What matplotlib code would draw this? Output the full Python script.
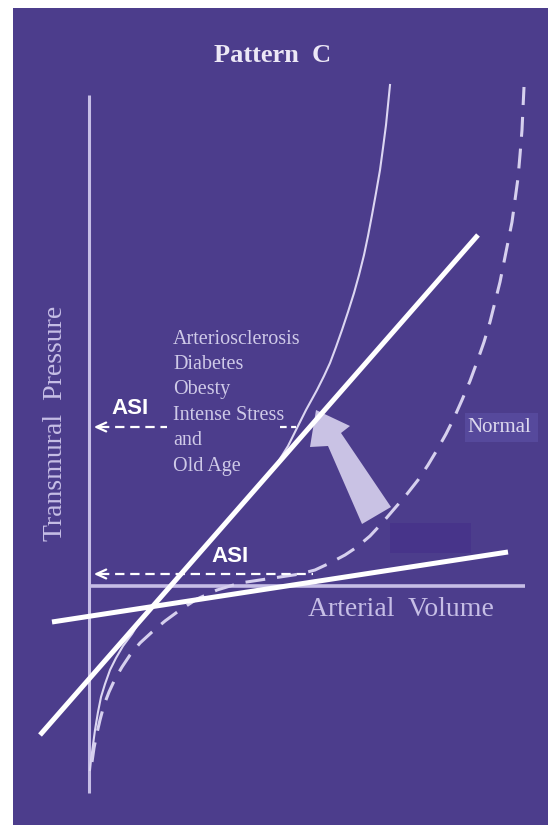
import matplotlib
matplotlib.use("Agg")
import matplotlib.pyplot as plt
from matplotlib.patches import Rectangle, Polygon

# --- data (diagram coordinates, y grows downward) ---
stiff_x = [90, 91, 93, 95, 98, 101, 105, 110, 116, 123, 132, 140, 175, 210, 245, 268,
           278, 288, 297, 306, 317, 324, 330, 336, 342, 348, 354, 359, 364, 368, 372,
           376, 380, 383, 386, 388, 390]
stiff_y = [770, 760, 745, 730, 712, 697, 684, 670, 658, 646, 634, 621, 581, 541, 501, 475,
           462, 446, 428, 410, 390, 376, 363, 347, 330, 312, 293, 275, 255, 236, 215,
           193, 170, 148, 125, 105, 85]

normal_x = [92, 94, 97, 100, 104, 109, 115, 122, 130, 140, 152, 165, 180, 197, 217, 240,
            260, 280, 300, 315, 330, 345, 357, 370, 383, 395, 407, 418, 428, 437, 446,
            454, 462, 470, 477, 484, 490, 495, 500, 504, 508, 512, 515, 518, 520, 522,
            523, 524]
normal_y = [762, 748, 733, 720, 705, 692, 679, 667, 655, 643, 632, 621, 610, 599, 590, 583,
            580, 577, 574, 570, 563, 555, 547, 536, 522, 508, 494, 480, 465, 450, 434,
            418, 400, 381, 362, 342, 322, 302, 282, 262, 242, 222, 200, 178, 155, 130,
            108, 87]

tangent_steep = ([40, 478], [735, 235])
tangent_flat = ([52, 508], [622, 552])

asi_upper = {"y": 427, "left": 100, "right": 167, "tail": (280, 296), "label": (130, 408)}
asi_lower = {"y": 574, "left": 100, "right": 313, "label": (230, 556)}

risk_labels = ["Arteriosclerosis", "Diabetes", "Obesty", "Intense Stress", "and", "Old Age"]

shift_arrow = [(316, 410), (350, 426), (341, 433), (391, 507), (362, 524), (328, 446), (310, 447)]

BG = "#4c3d8c"
LAV = "#c6bee6"

fig = plt.figure(figsize=(5.48, 8.25), dpi=100)
fig.patch.set_facecolor("white")
ax = fig.add_axes([0, 0, 1, 1])
ax.set_xlim(0, 548)
ax.set_ylim(825, 0)
ax.axis("off")

ax.add_patch(Rectangle((13, 8), 535, 817, facecolor=BG, edgecolor="none", zorder=0))

# patches left over in the original slide
ax.add_patch(Rectangle((390, 523), 81, 30, facecolor="#47348a", edgecolor="none", zorder=1))
ax.add_patch(Rectangle((465, 413), 73, 29, facecolor="#56499c", edgecolor="none", zorder=1))

# axes
ax.plot([89, 89], [95, 793], color=LAV, lw=2.2, solid_capstyle="butt", zorder=2)
ax.plot([89, 525], [586, 586], color=LAV, lw=2.6, solid_capstyle="butt", zorder=2)

# curves
ax.plot(stiff_x, stiff_y, color="#dcd6f2", lw=1.5, zorder=3)
ax.plot(normal_x, normal_y, color="#d6d0ee", lw=2.2, linestyle=(0, (6.5, 3.9)), zorder=3)

# shift arrow
ax.add_patch(Polygon(shift_arrow, closed=True, facecolor="#c9c2e4", edgecolor="none", zorder=3))

# ASI arrows
for a in (asi_upper, asi_lower):
    ax.plot([a["left"], a["right"]], [a["y"], a["y"]], color="white", lw=1.6,
            linestyle=(0, (4.2, 2.6)), zorder=4)
    ax.annotate("", xy=(91, a["y"]), xytext=(104, a["y"]),
                arrowprops=dict(arrowstyle="->,head_length=0.7,head_width=0.32",
                                color="white", lw=1.6), zorder=4)
    ax.text(a["label"][0], a["label"][1], "ASI", color="white", fontsize=16,
            fontweight="bold", family="Liberation Sans", ha="center", va="center", zorder=4)
ax.plot(list(asi_upper["tail"]), [asi_upper["y"]] * 2, color="white", lw=1.6,
        linestyle=(0, (3.0, 2.0)), zorder=4)

# tangent lines
ax.plot(*tangent_steep, color="white", lw=3.6, solid_capstyle="butt", zorder=5)
ax.plot(*tangent_flat, color="white", lw=3.6, solid_capstyle="butt", zorder=5)

# texts
ax.text(273, 55, "Pattern  C", color="#ece8f6", fontsize=19, fontweight="bold",
        family="Liberation Serif", ha="center", va="center")
ax.text(56, 423, "Transmural  Pressure", color=LAV, fontsize=20, rotation=90,
        family="Liberation Serif", ha="center", va="center")
ax.text(401, 609, "Arterial  Volume", color=LAV, fontsize=20,
        family="Liberation Serif", ha="center", va="center")
for i, lab in enumerate(risk_labels):
    ax.text(173, 339 + i * 25.4, lab, color="#cfcae8", fontsize=14.5,
            family="Liberation Serif", ha="left", va="center", zorder=2)
ax.text(499, 428, "Normal", color="#dcd8ee", fontsize=15,
        family="Liberation Serif", ha="center", va="center", zorder=2)

fig.savefig("out.png", dpi=100, facecolor=fig.get_facecolor())
